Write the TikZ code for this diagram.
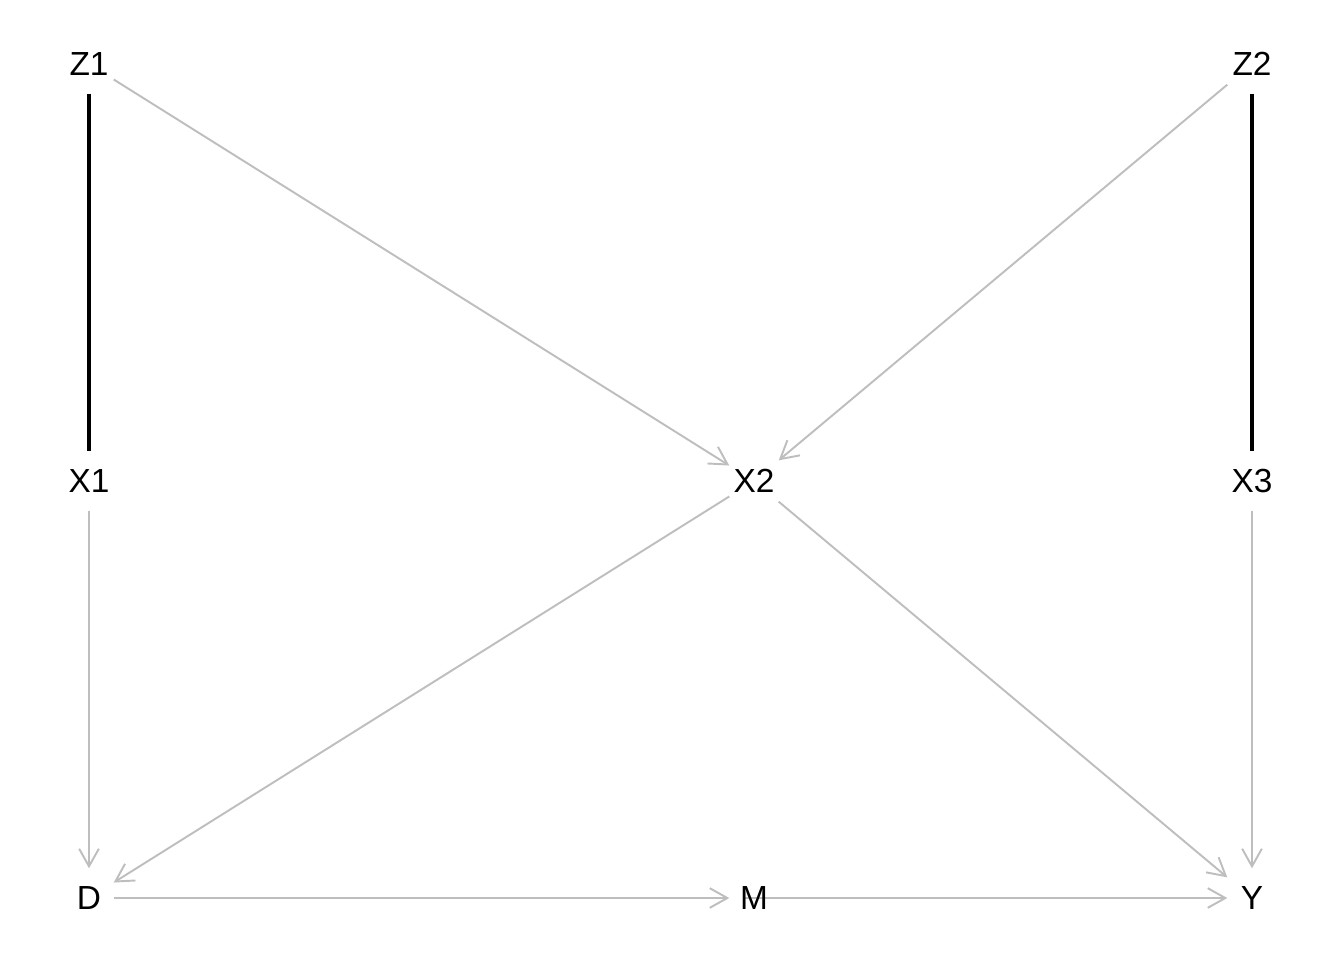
\documentclass[tikz,border=0pt]{standalone}
\usepackage{fontspec}
\setmainfont{Liberation Sans}
\usetikzlibrary{arrows.meta, backgrounds}
\definecolor{cinzaseta}{RGB}{190, 190, 190}

\begin{document}
\begin{tikzpicture}[
    variavel/.style={
        minimum width=0.48cm,
        minimum height=0.58cm,
        inner sep=0pt,
        font=\fontsize{9.5}{11}\selectfont
    },
    seta/.style={
        draw=cinzaseta,
        line width=0.55pt,
        -{Straight Barb[length=5pt, width=5.6pt]}
    },
    ligacao/.style={
        draw=black,
        line width=0.9pt
    }
]

\useasboundingbox (0,0) rectangle (13.44,-9.6);

% ---------------- Variaveis ----------------

\node[variavel] (z1) at (0.89,-0.64) {Z1};
\node[variavel] (z2) at (12.52,-0.64) {Z2};

\node[variavel] (x1) at (0.89,-4.81) {X1};
\node[variavel] (x2) at (7.54,-4.81) {X2};
\node[variavel] (x3) at (12.52,-4.81) {X3};

\node[variavel] (d) at (0.89,-8.98) {D};
\node[variavel] (m) at (7.54,-8.98) {M};
\node[variavel] (y) at (12.52,-8.98) {Y};

% ---------------- Arestas ----------------

\begin{scope}[on background layer]
    \draw[ligacao] (z1) -- (x1);
    \draw[ligacao] (z2) -- (x3);

    \draw[seta] (z1) -- (x2);
    \draw[seta] (z2) -- (x2);

    \draw[seta] (x1) -- (d);
    \draw[seta] (x2) -- (d);
    \draw[seta] (x2) -- (y);
    \draw[seta] (x3) -- (y);

    \draw[seta] (d) -- (m);
    \draw[seta] ([xshift=-0.1cm]m.center) -- (y);
\end{scope}

\end{tikzpicture}
\end{document}
